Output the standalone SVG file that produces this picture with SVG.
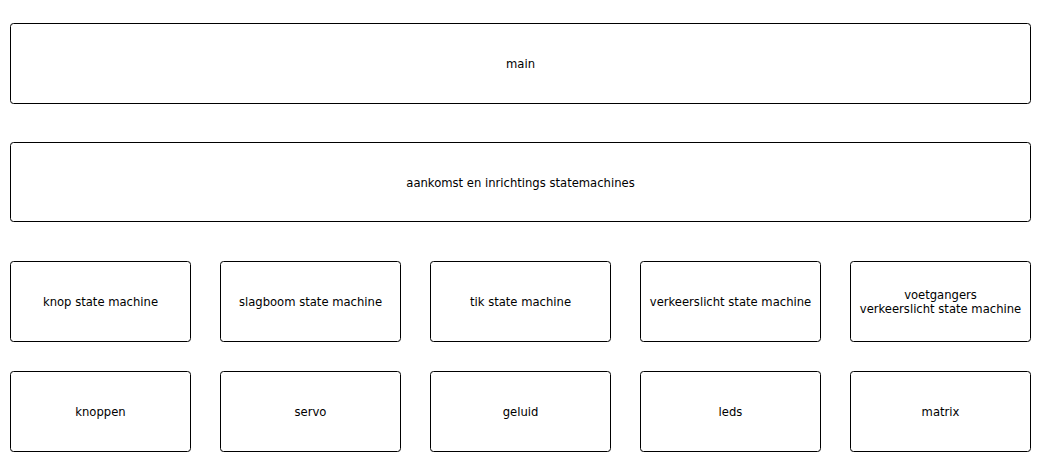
<svg xmlns="http://www.w3.org/2000/svg" width="1047" height="467" viewBox="0 0 1047 467">
<style>
.box{fill:#fff;stroke:#000;stroke-width:1}
.t{font-family:"DejaVu Sans",sans-serif;font-size:11.6px;fill:#000;text-anchor:middle;dominant-baseline:central}
</style>
<rect width="1047" height="467" fill="#fff"/>
<g id="main"><rect class="box" x="10.5" y="23.5" width="1020" height="80" rx="3"/><text class="t" x="520.5" y="64">main</text></g>
<g id="aankomst"><rect class="box" x="10.5" y="142.5" width="1020" height="79" rx="3"/><text class="t" x="520.5" y="183">aankomst en inrichtings statemachines</text></g>
<g id="knop-sm"><rect class="box" x="10.5" y="261.5" width="180" height="80" rx="3"/><text class="t" x="100.5" y="302">knop state machine</text></g>
<g id="slagboom-sm"><rect class="box" x="220.5" y="261.5" width="180" height="80" rx="3"/><text class="t" x="310.5" y="302">slagboom state machine</text></g>
<g id="tik-sm"><rect class="box" x="430.5" y="261.5" width="180" height="80" rx="3"/><text class="t" x="520.5" y="302">tik state machine</text></g>
<g id="verkeerslicht-sm"><rect class="box" x="640.5" y="261.5" width="180" height="80" rx="3"/><text class="t" x="730.5" y="302">verkeerslicht state machine</text></g>
<g id="voetgangers-sm"><rect class="box" x="850.5" y="261.5" width="180" height="80" rx="3"/><text class="t" x="940.5" y="294.5">voetgangers</text><text class="t" x="940.5" y="309">verkeerslicht state machine</text></g>
<g id="knoppen"><rect class="box" x="10.5" y="371.5" width="180" height="80" rx="3"/><text class="t" x="100.5" y="412">knoppen</text></g>
<g id="servo"><rect class="box" x="220.5" y="371.5" width="180" height="80" rx="3"/><text class="t" x="310.5" y="412">servo</text></g>
<g id="geluid"><rect class="box" x="430.5" y="371.5" width="180" height="80" rx="3"/><text class="t" x="520.5" y="412">geluid</text></g>
<g id="leds"><rect class="box" x="640.5" y="371.5" width="180" height="80" rx="3"/><text class="t" x="730.5" y="412">leds</text></g>
<g id="matrix"><rect class="box" x="850.5" y="371.5" width="180" height="80" rx="3"/><text class="t" x="940.5" y="412">matrix</text></g>
<g id="connectors"></g>
</svg>
